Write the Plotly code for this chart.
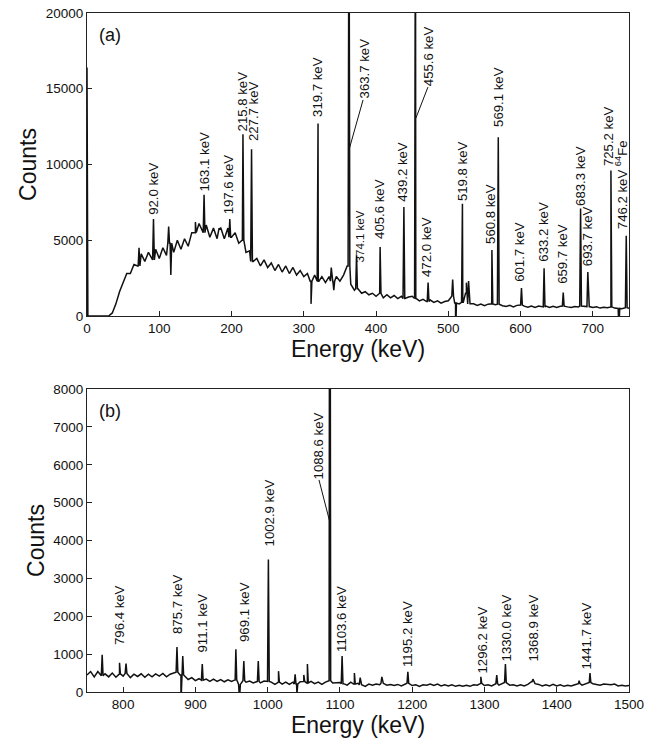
import plotly.graph_objects as go
from plotly.subplots import make_subplots

# ---------------- Panel (a) data ----------------
bg_a_start = 0
bg_a_step = 5
bg_a_counts = [
    0, 0, 0, 0, 0, 0, 0, 200, 800, 1600,                          # 0-45
    2200, 2800, 2800, 3400, 3300, 4100, 3600, 4200, 3700, 4400,   # 50-95
    3800, 4500, 4000, 4800, 4200, 5000, 4400, 5100, 4600, 5500,   # 100-145
    5500, 6100, 5500, 6000, 5200, 5800, 5100, 5800, 5100, 5800,   # 150-195
    5200, 5500, 4800, 5000, 4200, 4300, 3600, 3800, 3300, 3700,   # 200-245
    3200, 3500, 3000, 3400, 2900, 3300, 2800, 3200, 2700, 3000,   # 250-295
    2600, 2800, 2300, 2700, 2300, 2600, 2200, 2600, 2300, 2600,   # 300-345
    2300, 2700, 3300, 2100, 1700, 1800, 1500, 1600, 1400, 1500,   # 350-395
    1300, 1500, 1200, 1400, 1200, 1350, 1150, 1300, 1150, 1250,   # 400-445
    1300, 1150, 1000, 1100, 950, 1050, 900, 1000, 850, 950,       # 450-495
    1000, 1300, 850, 800, 900, 1500, 800, 800, 700, 780,          # 500-545
    680, 780, 800, 750, 780, 680, 620, 700, 600, 700,             # 550-595
    720, 650, 580, 660, 570, 650, 600, 650, 560, 640,             # 600-645
    560, 640, 650, 600, 560, 620, 600, 650, 650, 620,             # 650-695
    560, 600, 520, 580, 540, 600, 520, 500, 480, 550,             # 700-745
    500,                                                          # 750
]
peak_a_energy = [0.0, 72, 92.0, 113, 116, 150, 162, 184, 197.6, 215.8, 227.7,
                 310, 319.7, 338, 341.5, 362.5, 373, 405.6, 438.5, 454.5, 472.0,
                 506, 510, 519.5, 525, 528, 560.3, 569.1, 601.2, 632.5, 659.0,
                 683.0, 693.0, 725.0, 736, 746.2]
peak_a_counts = [16400, 4500, 6400, 5900, 2700, 6200, 8000, 5700, 6400, 12000, 11000,
                 800, 12700, 3200, 1700, 30000, 4000, 4550, 7200, 30000, 2200,
                 2400, -1500, 7400, 2200, 2300, 4350, 11800, 1850, 3150, 1550,
                 7100, 2900, 9600, -800, 5300]

label_a_text = ["92.0 keV", "163.1 keV", "197.6 keV", "215.8 keV", "227.7 keV",
                "319.7 keV", "363.7 keV", "374.1 keV", "405.6 keV", "439.2 keV",
                "455.6 keV", "472.0 keV", "519.8 keV", "560.8 keV", "569.1 keV",
                "601.7 keV", "633.2 keV", "659.7 keV", "683.3 keV", "693.7 keV",
                "725.2 keV", "746.2 keV <sup>64</sup>Fe"]
label_a_x = [92.5, 162, 197, 215.0, 229.7, 319.6, 384, 377, 405.4, 437, 472,
             470.5, 519, 559, 570, 599, 632, 658.6, 682, 692, 721, 740]
label_a_y = [6600, 8150, 6670, 12140, 11480, 13070, 14260, 3500, 5020, 7460, 15110,
             2510, 7520, 4690, 12410, 2180, 3500, 2050, 7190, 3230, 9830, 5680]
label_a_size = [13.2] * 7 + [11.5] + [13.2] * 14

leader_a_x0 = [382, 471.8]
leader_a_y0 = [14260, 15110]
leader_a_x1 = [362.5, 455.2]
leader_a_y1 = [10960, 13070]

# ---------------- Panel (b) data ----------------
bg_b_start = 750
bg_b_step = 5
bg_b_counts = [
    450, 540, 400, 540, 430, 480, 400, 500, 390, 480,   # 750-795
    420, 490, 380, 470, 410, 480, 390, 470, 400, 480,   # 800-845
    420, 490, 400, 470, 500, 520, 450, 420, 330, 380,   # 850-895
    300, 350, 310, 340, 280, 340, 280, 330, 270, 320,   # 900-945
    280, 320, 200, 300, 260, 290, 240, 280, 240, 290,   # 950-995
    280, 260, 200, 260, 210, 260, 200, 260, 210, 270,   # 1000-1045
    280, 240, 280, 220, 260, 200, 260, 300, 240, 250,   # 1050-1095
    250, 220, 180, 260, 210, 230, 190, 150, 210, 180,   # 1100-1145
    210, 190, 230, 180, 200, 170, 200, 160, 200, 230,   # 1150-1195
    170, 190, 150, 190, 180, 210, 170, 210, 160, 190,   # 1200-1245
    160, 190, 150, 180, 150, 180, 150, 190, 180, 230,   # 1250-1295
    170, 190, 160, 220, 180, 220, 250, 180, 190, 160,   # 1300-1345
    190, 160, 200, 270, 220, 200, 160, 190, 160, 200,   # 1350-1395
    160, 190, 150, 180, 160, 190, 220, 180, 210, 250,   # 1400-1445
    220, 210, 180, 210, 200, 190, 210, 160, 180, 160,   # 1450-1495
    170,                                                # 1500
]
peak_b_energy = [771, 795, 804, 874.5, 880, 882.5, 909.5, 956, 961, 967, 987,
                 1001, 1015, 1038, 1040.5, 1050, 1055, 1086, 1103, 1120, 1128,
                 1158, 1194, 1295, 1317, 1329, 1367, 1431, 1446]
peak_b_counts = [980, 770, 750, 1190, -300, 950, 740, 1130, -200, 820, 815,
                 3500, 550, 470, -50, 450, 740, 20000, 950, 500, 380,
                 400, 530, 400, 450, 740, 340, 300, 500]

label_b_text = ["796.4 keV", "875.7 keV", "911.1 keV", "969.1 keV", "1002.9 keV",
                "1088.6 keV", "1103.6 keV", "1195.2 keV", "1296.2 keV", "1330.0 keV",
                "1368.9 keV", "1441.7 keV"]
label_b_x = [794.3, 874.5, 910.5, 968.6, 1001.8, 1069.6, 1102.8, 1194.3,
             1296.6, 1331, 1368.5, 1441.8]
label_b_y = [1214, 1505, 1030, 1294, 3830, 5600, 1030, 634, 450, 790, 790, 580]

leader_b_x0 = [1071]
leader_b_y0 = [5600]
leader_b_x1 = [1086]
leader_b_y1 = [4490]

# axis ranges / ticks
a_x_range = [0, 750]
a_y_range = [0, 20000]
b_x_range = [750, 1500]
b_y_range = [0, 8000]


def build_spectrum(start, step, counts, pk_e, pk_c, hw=1.2):
    xs = [start + i * step for i in range(len(counts))]
    pts = list(zip(xs, counts))
    for e, c in zip(pk_e, pk_c):
        idx = min(range(len(xs)), key=lambda i: abs(xs[i] - e))
        base = counts[idx]
        pts += [(e - hw, base), (e, c), (e + hw, base)]
    pts.sort(key=lambda p: p[0])
    return [p[0] for p in pts], [p[1] for p in pts]


FONT = "Liberation Sans, Arial, Helvetica, sans-serif"
INK = "#111"

fig = make_subplots(rows=2, cols=1)

xa, ya = build_spectrum(bg_a_start, bg_a_step, bg_a_counts, peak_a_energy, peak_a_counts)
xb, yb = build_spectrum(bg_b_start, bg_b_step, bg_b_counts, peak_b_energy, peak_b_counts)

fig.add_trace(go.Scatter(x=xa, y=ya, mode="lines", line=dict(color=INK, width=1.5),
                         showlegend=False, hoverinfo="skip"), row=1, col=1)
fig.add_trace(go.Scatter(x=xb, y=yb, mode="lines", line=dict(color=INK, width=1.5),
                         showlegend=False, hoverinfo="skip"), row=2, col=1)

annotations = []
for t, x, y, s in zip(label_a_text, label_a_x, label_a_y, label_a_size):
    annotations.append(dict(text=t, x=x, y=y, xref="x", yref="y", textangle=-90,
                            showarrow=False, xanchor="center", yanchor="bottom",
                            font=dict(size=s, color=INK, family=FONT), borderpad=0))
for t, x, y in zip(label_b_text, label_b_x, label_b_y):
    annotations.append(dict(text=t, x=x, y=y, xref="x2", yref="y2", textangle=-90,
                            showarrow=False, xanchor="center", yanchor="bottom",
                            font=dict(size=13.2, color=INK, family=FONT), borderpad=0))
annotations.append(dict(text="(a)", x=0.018, y=0.967, xref="x domain", yref="y domain",
                        xanchor="left", yanchor="top", showarrow=False,
                        font=dict(size=18, color=INK, family=FONT)))
annotations.append(dict(text="(b)", x=0.018, y=0.967, xref="x2 domain", yref="y2 domain",
                        xanchor="left", yanchor="top", showarrow=False,
                        font=dict(size=18, color=INK, family=FONT)))

shapes = []
for x0, y0, x1, y1 in zip(leader_a_x0, leader_a_y0, leader_a_x1, leader_a_y1):
    shapes.append(dict(type="line", xref="x", yref="y", x0=x0, y0=y0, x1=x1, y1=y1,
                       line=dict(color=INK, width=1)))
for x0, y0, x1, y1 in zip(leader_b_x0, leader_b_y0, leader_b_x1, leader_b_y1):
    shapes.append(dict(type="line", xref="x2", yref="y2", x0=x0, y0=y0, x1=x1, y1=y1,
                       line=dict(color=INK, width=1)))

axis_common = dict(showline=True, linecolor="#222", linewidth=1, mirror=True,
                   ticks="inside", ticklen=5, tickcolor="#222", showgrid=False,
                   zeroline=False, automargin=False, tickformat="d",
                   ticklabeloverflow="allow",
                   tickfont=dict(size=13.5, color=INK, family=FONT))
title_font = dict(size=23, color=INK, family=FONT)

fig.update_xaxes(range=a_x_range, dtick=100, tick0=0, domain=[0, 1],
                 title=dict(text="Energy (keV)", font=title_font, standoff=2),
                 row=1, col=1, **axis_common)
fig.update_yaxes(range=a_y_range, dtick=5000, tick0=0, domain=[0.5538, 1.0],
                 title=dict(text="Counts", font=title_font, standoff=2),
                 row=1, col=1, **axis_common)
fig.update_xaxes(range=b_x_range, dtick=100, tick0=0, domain=[0, 1],
                 title=dict(text="Energy (keV)", font=title_font, standoff=2),
                 row=2, col=1, **axis_common)
fig.update_yaxes(range=b_y_range, dtick=1000, tick0=0, domain=[0.0, 0.4462],
                 title=dict(text="Counts", font=title_font, standoff=2),
                 row=2, col=1, **axis_common)

fig.update_layout(width=647, height=741, margin=dict(l=87, r=18, t=13, b=49),
                  paper_bgcolor="white", plot_bgcolor="white",
                  annotations=annotations, shapes=shapes, showlegend=False,
                  font=dict(family=FONT, color=INK))

# remove the default 8 px page margin so the figure fills the window exactly
fig.write_html("out.html",
               config={"displayModeBar": False, "staticPlot": True},
               post_script="document.body.style.margin='0px';"
                           "document.body.style.overflow='hidden';")
